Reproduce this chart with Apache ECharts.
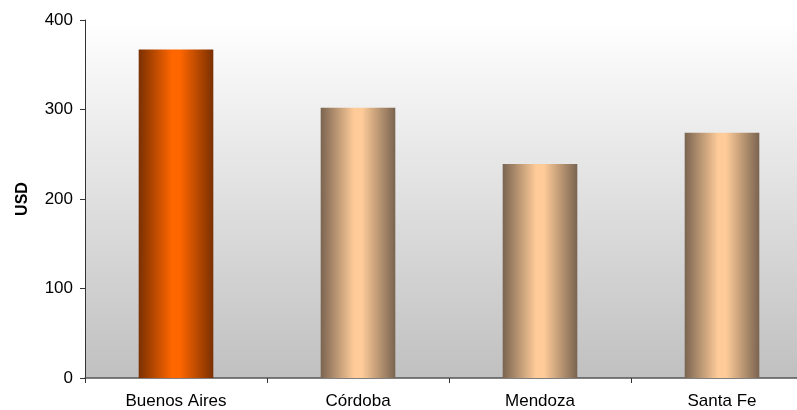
<!DOCTYPE html>
<html lang="en">
<head>
    <meta charset="UTF-8">
    <title>USD by province</title>
    <style>
        body { margin: 0; padding: 0; background: #ffffff; }
        #chart-container { width: 797px; height: 410px; }
    </style>
    <script src="https://fastly.jsdelivr.net/npm/echarts@6/dist/echarts.min.js"></script>
</head>
<body>
    <div id="chart-container"></div>
    <script>
        const categories = ['Buenos Aires', 'Córdoba', 'Mendoza', 'Santa Fe'];
        const values = [367, 302, 239, 274];
        const highlighted = [true, false, false, false];

        function cylinder(dark, light) {
            return {
                type: 'linear', x: 0, y: 0, x2: 1, y2: 0,
                colorStops: [
                    { offset: 0, color: dark },
                    { offset: 0.45, color: light },
                    { offset: 0.55, color: light },
                    { offset: 1, color: dark }
                ]
            };
        }

        const data = values.map((v, i) => ({
            value: v,
            itemStyle: {
                color: highlighted[i] ? cylinder('#7a3000', '#ff6600') : cylinder('#7a6450', '#ffcc99')
            }
        }));

        const chart = echarts.init(document.getElementById('chart-container'));
        chart.setOption({
            animation: false,
            // plot area runs a little past the right edge of the window
            grid: { left: 85, width: 728, top: 20, bottom: 32, containLabel: false, outerBoundsMode: 'none' },
            graphic: [{
                type: 'rect',
                shape: { x: 85, y: 20, width: 712, height: 358 },
                style: {
                    fill: {
                        type: 'linear', x: 0, y: 0, x2: 0, y2: 1,
                        colorStops: [
                            { offset: 0, color: '#ffffff' },
                            { offset: 1, color: '#c0c0c0' }
                        ]
                    }
                },
                z: -10
            }],
            xAxis: {
                type: 'category',
                data: categories,
                axisLine: { lineStyle: { color: '#555555', width: 1.5 } },
                axisTick: { show: true, length: 5, lineStyle: { color: '#333333' } },
                axisLabel: { color: '#000000', fontFamily: 'Arial', fontSize: 17, margin: 15 }
            },
            yAxis: {
                type: 'value',
                min: 0, max: 400, interval: 100,
                name: 'USD',
                nameLocation: 'middle',
                nameGap: 54,
                nameTextStyle: { fontFamily: 'Arial', fontSize: 16, fontWeight: 'bold', color: '#000000' },
                splitLine: { show: false },
                axisLine: { show: true, lineStyle: { color: '#333333', width: 1 } },
                axisTick: { show: true, length: 5, lineStyle: { color: '#333333' } },
                axisLabel: { color: '#000000', fontFamily: 'Arial', fontSize: 17, margin: 12 }
            },
            series: [{
                type: 'bar',
                data: data,
                barWidth: '41%'
            }]
        });
    </script>
</body>
</html>
